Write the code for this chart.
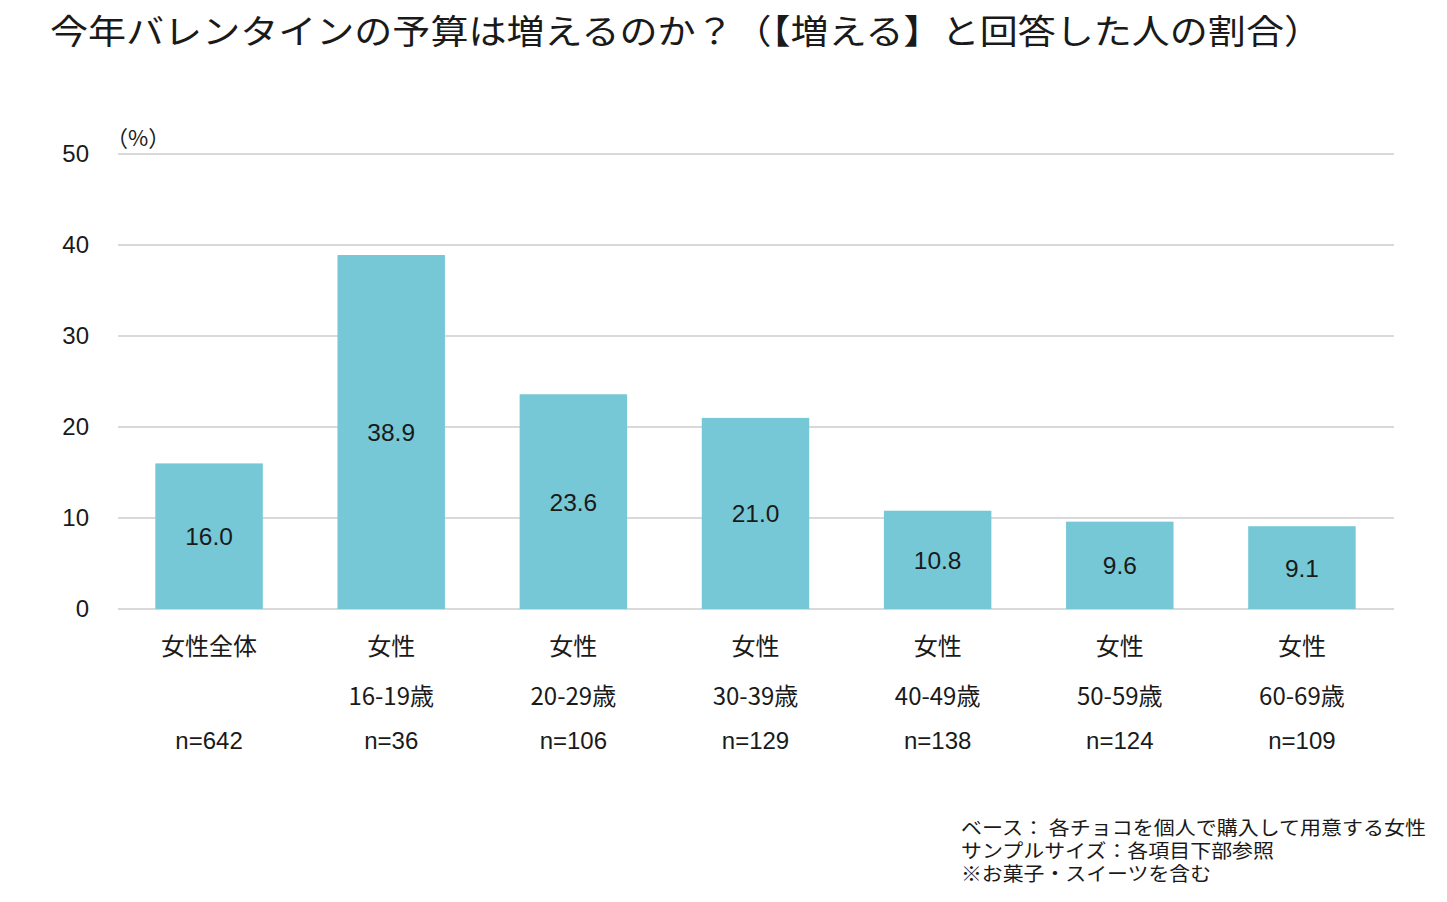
<!DOCTYPE html>
<html lang="ja">
  <head>
    <meta charset="UTF-8" />
    <title>今年バレンタインの予算は増えるのか？</title>
    <script src="https://d3js.org/d3.v7.min.js"></script>
    <style>
      body {
        margin: 0;
        background: #fff;
      }
      svg text {
        fill: #1a1a1a;
      }
      .jp {
        font-family: 'Noto Sans CJK JP', sans-serif;
      }
      .num {
        font-family: 'Liberation Sans', Arial, sans-serif;
      }
    </style>
  </head>
  <body>
    <div id="chart"></div>
    <script>
      // data
      const categories = ['女性全体', '女性16-19歳', '女性20-29歳', '女性30-39歳', '女性40-49歳', '女性50-59歳', '女性60-69歳'];
      const catLine1 = ['女性全体', '女性', '女性', '女性', '女性', '女性', '女性'];
      const catLine2 = ['', '16-19歳', '20-29歳', '30-39歳', '40-49歳', '50-59歳', '60-69歳'];
      const sampleSizes = ['n=642', 'n=36', 'n=106', 'n=129', 'n=138', 'n=124', 'n=109'];
      const values = [16.0, 38.9, 23.6, 21.0, 10.8, 9.6, 9.1];
      const yTicks = [0, 10, 20, 30, 40, 50];
      const notes = ['ベース：  各チョコを個人で購入して用意する女性', 'サンプルサイズ：各項目下部参照', '※お菓子・スイーツを含む'];
      const noteWidths = [465, 313, 250];

      const width = 1447;
      const height = 902;
      const margin = { left: 118, right: 54, top: 154, bottom: 293 };

      const svg = d3
        .select('#chart')
        .append('svg')
        .attr('width', width)
        .attr('height', height);

      const x = d3
        .scaleBand()
        .domain(categories)
        .range([margin.left, width - margin.right])
        .paddingInner(0.41)
        .paddingOuter(0.205);

      const y = d3
        .scaleLinear()
        .domain([0, 50])
        .range([height - margin.bottom, margin.top]);

      // title
      svg
        .append('text')
        .attr('class', 'jp')
        .attr('x', 50)
        .attr('y', 44)
        .attr('font-size', 34)
        .attr('textLength', 1272)
        .attr('lengthAdjust', 'spacingAndGlyphs')
        .text('今年バレンタインの予算は増えるのか？（【増える】と回答した人の割合）');

      // gridlines
      svg
        .append('g')
        .selectAll('line')
        .data(yTicks)
        .join('line')
        .attr('x1', margin.left)
        .attr('x2', width - margin.right + 1)
        .attr('y1', (d) => y(d))
        .attr('y2', (d) => y(d))
        .attr('stroke', '#d9d9d9')
        .attr('stroke-width', 2);

      // y tick labels
      svg
        .append('g')
        .selectAll('text')
        .data(yTicks)
        .join('text')
        .attr('class', 'num')
        .attr('x', 89)
        .attr('y', (d) => y(d) + 8)
        .attr('text-anchor', 'end')
        .attr('font-size', 24)
        .text((d) => d);

      svg
        .append('text')
        .attr('class', 'jp')
        .attr('x', 106)
        .attr('y', 146)
        .attr('font-size', 22)
        .text('（%）');

      // bars
      svg
        .append('g')
        .selectAll('rect')
        .data(values)
        .join('rect')
        .attr('x', (d, i) => x(categories[i]))
        .attr('y', (d) => y(d))
        .attr('width', x.bandwidth())
        .attr('height', (d) => y(0) - y(d))
        .attr('fill', '#77c8d6');

      // value labels
      svg
        .append('g')
        .selectAll('text')
        .data(values)
        .join('text')
        .attr('class', 'num')
        .attr('x', (d, i) => x(categories[i]) + x.bandwidth() / 2)
        .attr('y', (d) => (y(d) + y(0)) / 2 + 9)
        .attr('text-anchor', 'middle')
        .attr('font-size', 24.5)
        .text((d) => d.toFixed(1));

      // category labels
      const cx = (i) => x(categories[i]) + x.bandwidth() / 2;
      const labelRows = [
        { rows: catLine1, y: 655, cls: 'jp' },
        { rows: catLine2, y: 705, cls: 'jp' },
        { rows: sampleSizes, y: 749, cls: 'num' },
      ];
      labelRows.forEach((r) => {
        svg
          .append('g')
          .selectAll('text')
          .data(r.rows)
          .join('text')
          .attr('class', r.cls)
          .attr('x', (d, i) => cx(i))
          .attr('y', r.y)
          .attr('text-anchor', 'middle')
          .attr('font-size', 24)
          .text((d) => d);
      });

      // footnotes
      svg
        .append('g')
        .selectAll('text')
        .data(notes)
        .join('text')
        .attr('class', 'jp')
        .attr('x', 961)
        .attr('y', (d, i) => 835 + i * 23)
        .attr('font-size', 19)
        .attr('textLength', (d, i) => noteWidths[i])
        .attr('lengthAdjust', 'spacingAndGlyphs')
        .text((d) => d);
    </script>
  </body>
</html>
